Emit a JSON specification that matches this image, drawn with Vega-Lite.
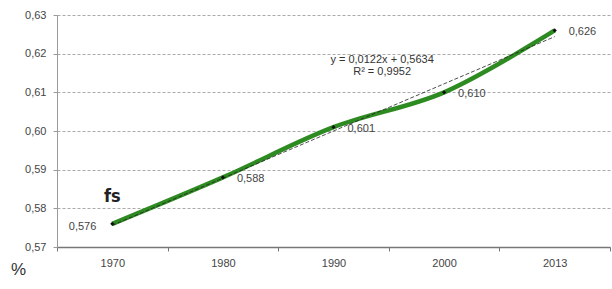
{
  "$schema": "https://vega.github.io/schema/vega-lite/v6.json",
  "width": 553,
  "height": 232,
  "autosize": {"type": "none"},
  "padding": {"left": 57, "top": 15, "right": 2, "bottom": 42},
  "background": "white",
  "config": {
    "view": {"stroke": null},
    "font": "Liberation Sans",
    "locale": {"number": {"decimal": ",", "thousands": ".", "grouping": [3], "currency": ["", " €"]}}
  },
  "data": {
    "values": [
      {"year": "1970", "value": 0.576, "trend": 0.5756},
      {"year": "1980", "value": 0.588, "trend": 0.5878},
      {"year": "1990", "value": 0.601, "trend": 0.6000},
      {"year": "2000", "value": 0.610, "trend": 0.6122},
      {"year": "2013", "value": 0.626, "trend": 0.6244}
    ]
  },
  "encoding": {
    "x": {
      "field": "year", "type": "ordinal", "sort": null,
      "scale": {"paddingInner": 0, "paddingOuter": 0},
      "axis": {
        "title": null, "labelAngle": 0, "tickBand": "extent", "grid": false,
        "domainColor": "#777", "domainWidth": 1.5, "tickColor": "#777", "tickSize": 4,
        "labelColor": "#444", "labelFontSize": 11, "labelPadding": 6
      }
    },
    "y": {
      "field": "value", "type": "quantitative",
      "scale": {"domain": [0.57, 0.63], "zero": false, "nice": false},
      "axis": {
        "values": [0.57, 0.58, 0.59, 0.6, 0.61, 0.62, 0.63],
        "labelOverlap": false,
        "format": ".2f", "title": "%", "titleAngle": 0, "titleX": -39, "titleY": 263,
        "titleFontSize": 17, "titleFontWeight": "normal", "titleColor": "#333",
        "gridColor": "#aaa", "gridDash": [3, 2], "gridWidth": 1,
        "domainColor": "#999", "tickColor": "#999", "tickSize": 4,
        "labelColor": "#444", "labelFontSize": 11, "labelPadding": 7
      }
    }
  },
  "layer": [
    {
      "mark": {"type": "line", "color": "#2e8b22", "strokeWidth": 4.5, "interpolate": "catmull-rom"}
    },
    {
      "mark": {"type": "line", "color": "#222", "strokeWidth": 0.8, "strokeDash": [4, 2]},
      "encoding": {"y": {"field": "trend", "type": "quantitative"}}
    },
    {
      "mark": {"type": "point", "shape": "diamond", "filled": true, "color": "#111", "size": 18, "opacity": 1}
    },
    {
      "transform": [{"filter": "datum.year != '1970'"}],
      "mark": {"type": "text", "align": "left", "dx": 14, "dy": 2, "fontSize": 11, "color": "#444"},
      "encoding": {
        "text": {"field": "value", "type": "quantitative", "format": ".3f"}
      }
    },
    {
      "transform": [{"filter": "datum.year == '1970'"}],
      "mark": {"type": "text", "align": "right", "dx": -16, "dy": 3, "fontSize": 11, "color": "#444"},
      "encoding": {
        "text": {"field": "value", "type": "quantitative", "format": ".3f"}
      }
    },
    {
      "data": {"values": [{"year": "2000", "y": 0.6184, "label": "y = 0,0122x + 0,5634\nR² = 0,9952"}]},
      "mark": {"type": "text", "align": "center", "dx": -62, "fontSize": 11, "color": "#333", "lineBreak": "\n", "lineHeight": 12},
      "encoding": {
        "y": {"field": "y", "type": "quantitative"},
        "text": {"field": "label"}
      }
    },
    {
      "data": {"values": [{"year": "1970", "y": 0.583, "label": "fs"}]},
      "mark": {"type": "text", "align": "center", "fontSize": 18, "fontWeight": "bold", "color": "#222", "font": "DejaVu Sans Condensed"},
      "encoding": {
        "y": {"field": "y", "type": "quantitative"},
        "text": {"field": "label"}
      }
    }
  ]
}
